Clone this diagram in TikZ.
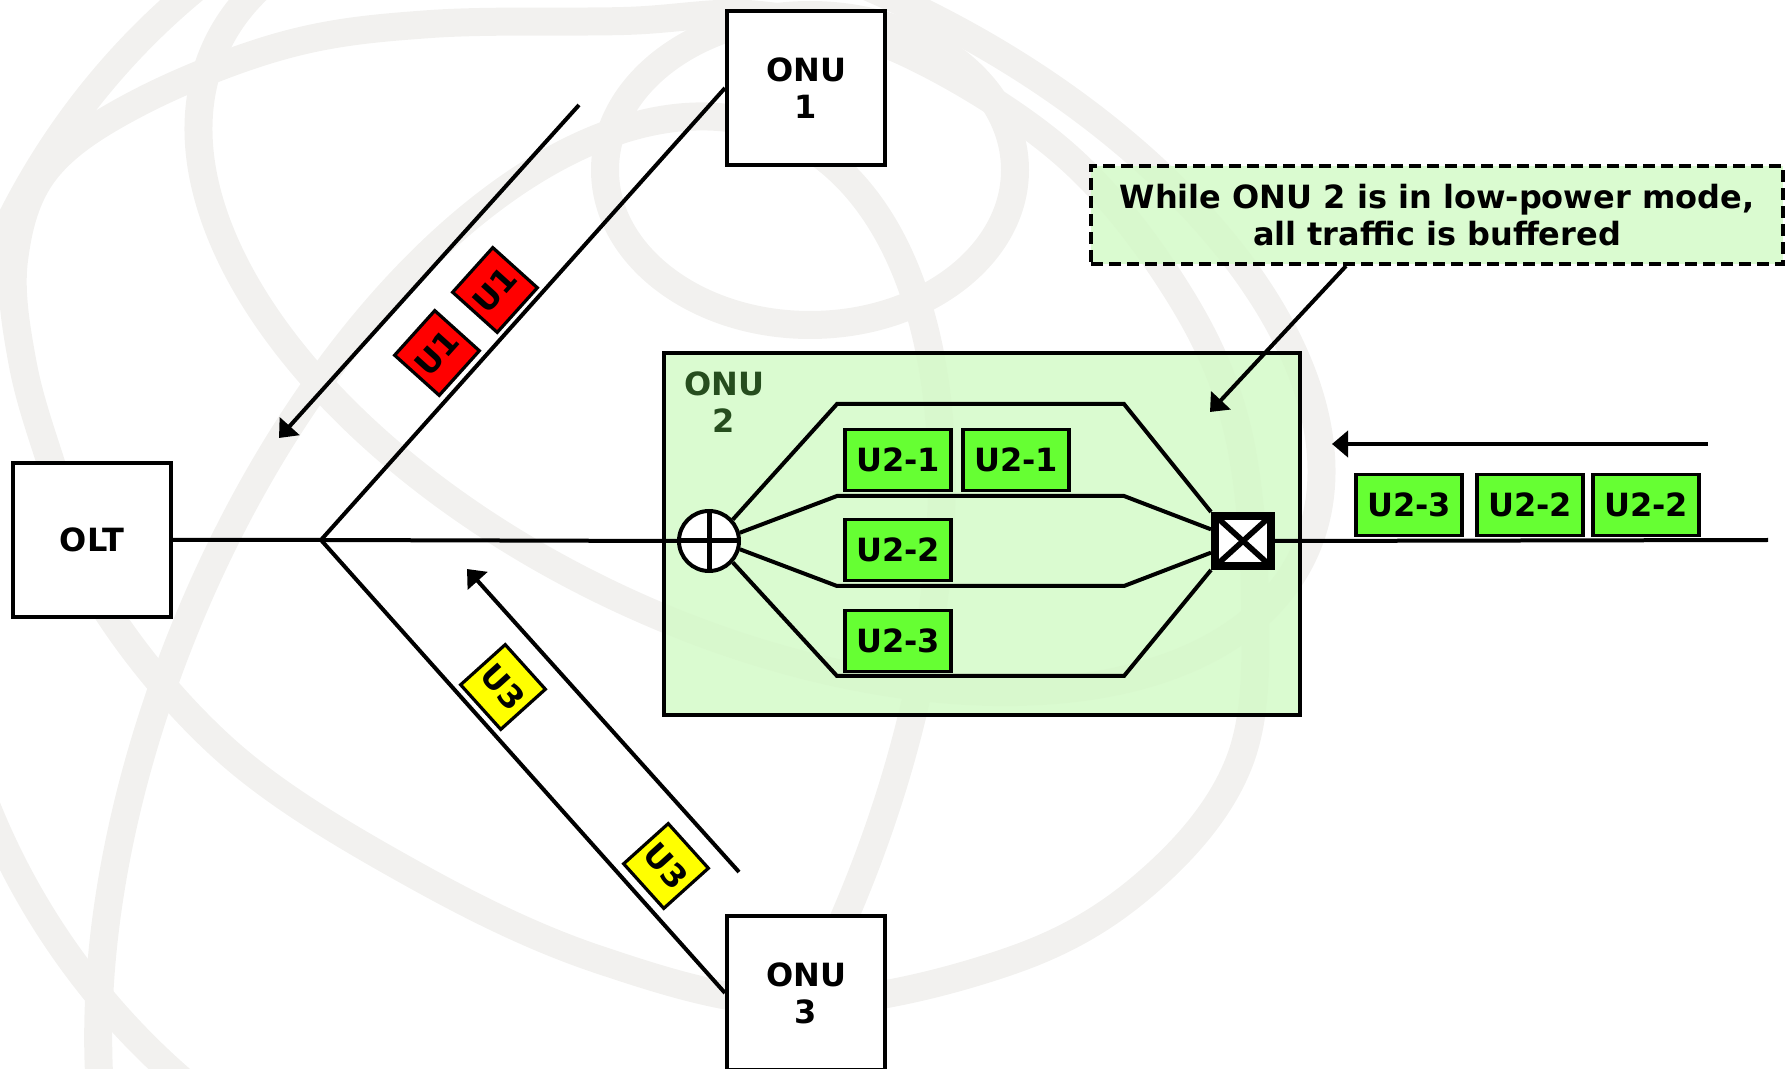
\documentclass[tikz,border=0pt]{standalone}
\usepackage{fontspec}
\setmainfont{DejaVu Sans}
\usepackage{xcolor}
\usetikzlibrary{arrows.meta,calc}

\definecolor{pktgreen}{RGB}{102,255,51}
\definecolor{pktred}{RGB}{255,0,0}
\definecolor{pktyellow}{RGB}{255,255,0}
\definecolor{zonegreen}{RGB}{212,250,200}
\definecolor{lblgreen}{RGB}{38,77,30}
\definecolor{globegray}{RGB}{242,241,239}

\newcommand{\bigfont}{\bfseries\fontsize{16}{18.5}\selectfont}

\begin{document}
\begin{tikzpicture}[x=0.5pt, y=-0.5pt,
  unit/.style={draw, line width=2pt, fill=white, minimum width=79pt, minimum height=77pt, align=center, font=\bigfont},
  pkt/.style={draw, line width=1.6pt, fill=pktgreen, minimum width=53pt, minimum height=30.5pt, inner sep=0pt, font=\bigfont},
  tag/.style={draw, line width=1.6pt, minimum width=30pt, minimum height=30pt, inner sep=0pt, font=\bigfont},
  zone/.style={draw, line width=2pt, fill=zonegreen, fill opacity=0.85, text opacity=1},
  fiber/.style={line width=2pt},
  flow/.style={line width=2pt, -{Triangle[length=8pt, width=13pt]}},
  globe/.style={globegray, line width=14pt}
]
\useasboundingbox (0,0) rectangle (1785,1069);

% faint globe in the background
\begin{scope}
  \clip (0,0) rectangle (1785,1069);
  \draw[globe] (650,540) ++(125:715) arc[start angle=125, end angle=235, radius=715];
  \draw[globe] plot[smooth cycle, tension=0.6] coordinates {(624,21) (431,24) (285,45) (138,103) (46,170) (14,260) (22,360) (50,460) (100,600) (230,754) (413,874) (600,960) (800,1003) (1013,960) (1150,880) (1240,760) (1255,600) (1235,420) (1170,280) (1060,150) (900,50) (760,15)};
  \draw[globe, rotate around={-25:(760,300)}] (760,300) ellipse [x radius=600, y radius=330];
  \draw[globe, rotate around={67.6:(520,760)}] (520,760) ellipse [x radius=680, y radius=360];
  \draw[globe] (810,170) ellipse [x radius=205, y radius=155];
\end{scope}

% ONU 2 area
\node[zone, minimum width=318pt, minimum height=181pt] (onu2) at (982,534) {};
\node[font=\bigfont, text=lblgreen, align=center] (onu2lbl) at (724,402) {ONU\\2};

% end units
\node[unit] (olt)  at (92,540)  {OLT};
\node[unit] (onu1) at (806,88)  {ONU\\1};
\node[unit] (onu3) at (806,993) {ONU\\3};

\coordinate (split) at (321,540);
\coordinate (tail)  at (1768,540);

\node[circle, draw, line width=2pt, fill=white, minimum size=30pt, inner sep=0pt] (comb) at (709,541) {};
\draw[line width=2.5pt] (comb.north) -- (comb.south) (comb.west) -- (comb.east);
\node[draw, line width=4pt, fill=white, minimum width=28pt, minimum height=25pt, inner sep=0pt] (sw) at (1243,541) {};
\draw[line width=2.8pt, shorten <=2pt, shorten >=2pt] (sw.north west) -- (sw.south east);
\draw[line width=2.8pt, shorten <=2pt, shorten >=2pt] (sw.north east) -- (sw.south west);

% fibres
\draw[fiber] (olt.east) -- (split) -- (comb.west);
\draw[fiber] (split) -- (onu1.west);
\draw[fiber] (split) -- (onu3.west);
\draw[fiber] (sw.east) -- (tail);

% buffer lanes
\foreach \i/\y in {1/404,2/496,3/586,4/676} {
  \coordinate (laneL\i) at (837,\y);
  \coordinate (laneR\i) at (1124,\y);
}
\draw[fiber] (comb.42)  -- (laneL1) -- (laneR1) -- (sw.north west);
\draw[fiber] (comb.15)  -- (laneL2) -- (laneR2) -- (sw.160);
\draw[fiber] (comb.-15) -- (laneL3) -- (laneR3) -- (sw.200);
\draw[fiber] (comb.-42) -- (laneL4) -- (laneR4) -- (sw.south west);

% buffered packets
\node[pkt] (bufA) at (898,460)  {U2-1};
\node[pkt] (bufB) at (1016,460) {U2-1};
\node[pkt] (bufC) at (898,550)  {U2-2};
\node[pkt] (bufD) at (898,641)  {U2-3};

% incoming packets
\node[pkt] (inC) at (1409,505) {U2-3};
\node[pkt] (inB) at (1530,505) {U2-2};
\node[pkt] (inA) at (1646,505) {U2-2};

% upstream packets
\node[tag, fill=pktred, rotate=48]     (u1a) at (495,290) {U1};
\node[tag, fill=pktred, rotate=48]     (u1b) at (437,353) {U1};
\node[tag, fill=pktyellow, rotate=-48] (u3a) at (503,687) {U3};
\node[tag, fill=pktyellow, rotate=-48] (u3b) at (666,866) {U3};

% direction arrows
\coordinate (upA) at (579,105);  \coordinate (upB) at (279,438);
\coordinate (dnA) at (739,872);  \coordinate (dnB) at (467,569);
\coordinate (rtA) at (1708,444); \coordinate (rtB) at (1332,444);
\draw[flow] (upA) -- (upB);
\draw[flow] (dnA) -- (dnB);
\draw[flow] (rtA) -- (rtB);

% note
\node[zone, dashed, dash pattern=on 6pt off 3pt, minimum width=346pt, minimum height=49pt, align=center, font=\bigfont] (note) at (1437,215)
  {While ONU 2 is in low-power mode,\\all traffic is buffered};
\coordinate (notetip) at (1210,412);
\draw[flow] ($(note.south)+(-91,0)$) -- (notetip);
\end{tikzpicture}
\end{document}
